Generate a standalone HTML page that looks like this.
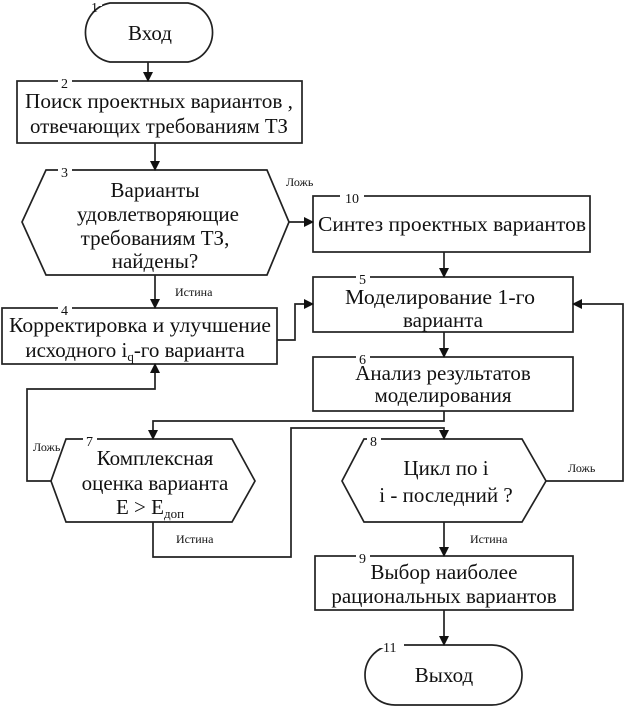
<!DOCTYPE html>
<html><head><meta charset="utf-8"><style>html,body{margin:0;padding:0;background:#fff}svg{display:block}</style></head>
<body>
<svg width="625" height="707" viewBox="0 0 625 707" xmlns="http://www.w3.org/2000/svg" font-family="'Liberation Serif', serif" fill="none" stroke="#222" stroke-width="1.7">
<defs><marker id="a" markerWidth="10" markerHeight="10" refX="9" refY="5" orient="auto" markerUnits="userSpaceOnUse"><path d="M0,0 L10,5 L0,10 z" fill="#111" stroke="none"/></marker></defs>
<path d="M110,3 H188 A30,30 0 0 1 188,62 H110 A30,30 0 0 1 110,3 Z"/>
<rect x="17" y="81" width="285" height="62"/>
<path d="M46,170 H267 L289,222 L267,275 H46 L22,222 Z"/>
<rect x="313" y="196" width="277" height="56"/>
<rect x="2" y="308" width="275" height="56"/>
<rect x="313" y="277" width="260" height="55"/>
<rect x="313" y="357" width="260" height="54"/>
<path d="M66,439 H232 L255,481 L232,522 H66 L51,481 Z"/>
<path d="M364,439 H522 L546,481 L522,522 H364 L342,481 Z"/>
<rect x="315" y="556" width="258" height="54"/>
<path d="M395,645 H492 A30,30 0 0 1 492,705 H395 A30,30 0 0 1 395,645 Z"/>
<g marker-end="url(#a)">
<path d="M148,62 V81"/>
<path d="M155,143 V170"/>
<path d="M289,222 H313"/>
<path d="M155,275 V308"/>
<path d="M444,252 V277"/>
<path d="M444,332 V357"/>
<path d="M277,340 H295 V304 H313"/>
<path d="M546,481 H623 V304 H573"/>
<path d="M444,411 V421 H153 V439"/>
<path d="M51,481 H27 V389 H155 V364"/>
<path d="M153,522 V557 H291 V428 H444 V439"/>
<path d="M444,522 V556"/>
<path d="M444,610 V645"/>
</g>
<g fill="#fff" stroke="none">
<rect x="88" y="0" width="14" height="6"/><rect x="58" y="76" width="14" height="8"/>
<rect x="58" y="165" width="14" height="8"/><rect x="340" y="191" width="24" height="8"/>
<rect x="58" y="303" width="14" height="8"/><rect x="356" y="272" width="14" height="8"/>
<rect x="356" y="352" width="14" height="8"/><rect x="83" y="434" width="14" height="8"/>
<rect x="367" y="434" width="14" height="8"/><rect x="356" y="551" width="14" height="8"/>
<rect x="380" y="640" width="24" height="8"/>
</g>
<g fill="#111" stroke="none" font-size="14">
<text x="91" y="12">1</text><text x="61" y="88">2</text><text x="61" y="177">3</text>
<text x="345" y="203">10</text><text x="61" y="315">4</text><text x="359" y="284">5</text>
<text x="359" y="364">6</text><text x="86" y="446">7</text><text x="370" y="446">8</text>
<text x="359" y="563">9</text><text x="383" y="652">11</text>
</g>
<g fill="#111" stroke="none" font-size="12">
<text x="286" y="186">Ложь</text><text x="175" y="296">Истина</text>
<text x="33" y="451">Ложь</text><text x="176" y="543">Истина</text>
<text x="470" y="543">Истина</text><text x="568" y="472">Ложь</text>
</g>
<g fill="#111" stroke="none" font-size="21" text-anchor="middle">
<text x="150" y="40">Вход</text>
<text x="159" y="108" textLength="268" lengthAdjust="spacingAndGlyphs">Поиск проектных вариантов ,</text>
<text x="159" y="133" textLength="258" lengthAdjust="spacingAndGlyphs">отвечающих требованиям ТЗ</text>
<text x="155" y="197">Варианты</text>
<text x="158" y="221" textLength="162" lengthAdjust="spacingAndGlyphs">удовлетворяющие</text>
<text x="155" y="245">требованиям ТЗ,</text>
<text x="155" y="268">найдены?</text>
<text x="452" y="231" textLength="268" lengthAdjust="spacingAndGlyphs">Синтез проектных вариантов</text>
<text x="140" y="332" textLength="262" lengthAdjust="spacingAndGlyphs">Корректировка и улучшение</text>
<text x="135" y="357">исходного  i<tspan font-size="13" dy="4">q</tspan><tspan dy="-4">-го варианта</tspan></text>
<text x="440" y="304" textLength="190" lengthAdjust="spacingAndGlyphs">Моделирование  1-го</text>
<text x="443" y="327">варианта</text>
<text x="443" y="380">Анализ результатов</text>
<text x="443" y="402">моделирования</text>
<text x="155" y="465">Комплексная</text>
<text x="155" y="490">оценка варианта</text>
<text x="150" y="514">E &gt; E<tspan font-size="13" dy="4">доп</tspan></text>
<text x="446" y="475">Цикл по i</text>
<text x="446" y="502">i - последний ?</text>
<text x="444" y="579">Выбор наиболее</text>
<text x="444" y="603">рациональных вариантов</text>
<text x="444" y="682">Выход</text>
</g>
</svg>
</body></html>
